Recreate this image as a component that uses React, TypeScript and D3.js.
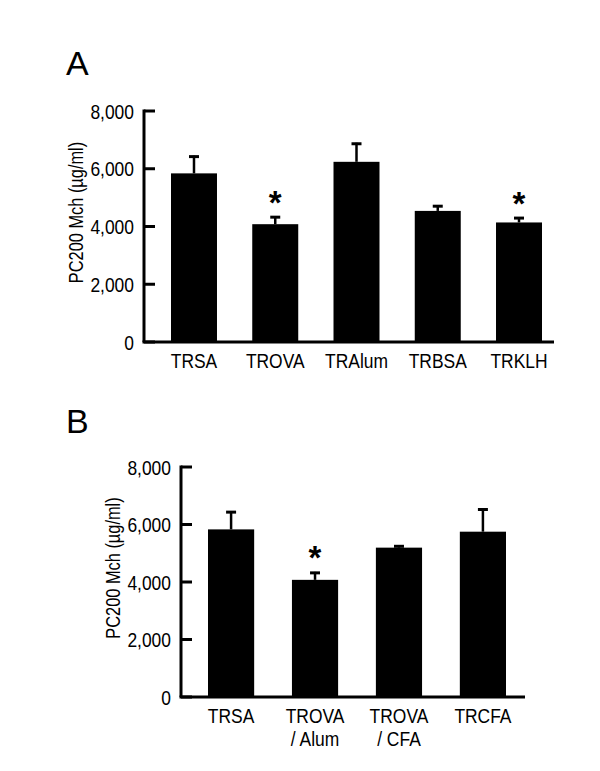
import React from "react";
import * as d3 from "d3";

// Panel A data
const aCategories = ["TRSA", "TROVA", "TRAlum", "TRBSA", "TRKLH"];
const aValues = [5840, 4080, 6240, 4540, 4140];
const aErrors = [615, 278, 660, 198, 186];
const aSignificant = [false, true, false, false, true];

// Panel B data
const bCategories = [["TRSA"], ["TROVA", "/ Alum"], ["TROVA", "/ CFA"], ["TRCFA"]];
const bValues = [5830, 4075, 5195, 5750];
const bErrors = [635, 277, 82, 807];
const bSignificant = [false, true, false, false];

const yTicks = [0, 2000, 4000, 6000, 8000];
const yMax = 8000;
const yTitle = "PC200 Mch (µg/ml)";

const SANS = "'Liberation Sans', Arial, sans-serif";

function NarrowText(props: {
  x: number;
  y: number;
  anchor: "start" | "middle" | "end";
  size: number;
  squeeze?: number;
  rotate?: number;
  dy?: string;
  children: React.ReactNode;
}) {
  const rot = props.rotate ? ` rotate(${props.rotate})` : "";
  const sq = props.squeeze ?? 0.83;
  return (
    <text
      transform={`translate(${props.x},${props.y})${rot} scale(${sq},1)`}
      textAnchor={props.anchor}
      dy={props.dy}
      fontFamily={SANS}
      fontSize={props.size}
      fill="#000"
    >
      {props.children}
    </text>
  );
}

type PanelProps = {
  letter: string;
  letterY: number;
  labels: string[][];
  values: number[];
  errors: number[];
  sig: boolean[];
  axisX: number;
  top: number;
  bottom: number;
  barStart: number;
  barEnd: number;
  padInner: number;
  lineEnd: number;
};

function Panel(p: PanelProps) {
  const y = d3.scaleLinear().domain([0, yMax]).range([p.bottom, p.top]);
  const keys = p.labels.map((l) => l.join(" "));
  const x = d3
    .scaleBand<string>()
    .domain(keys)
    .range([p.barStart, p.barEnd])
    .paddingInner(p.padInner)
    .paddingOuter(0);
  const bw = x.bandwidth();
  const fmt = d3.format(",");
  const capW = 10;
  return (
    <g>
      <text x={66} y={p.letterY} fontFamily={SANS} fontSize={34} fill="#000">
        {p.letter}
      </text>
      <NarrowText x={p.axisX - 61} y={(p.top + p.bottom) / 2 - 14} anchor="middle" size={21} squeeze={0.78} rotate={-90}>
        {yTitle}
      </NarrowText>
      {keys.map((k, i) => {
        const cx = (x(k) as number) + bw / 2;
        const errTop = y(p.values[i] + p.errors[i]);
        return (
          <g key={k}>
            <rect x={x(k)} y={y(p.values[i])} width={bw} height={p.bottom - y(p.values[i])} fill="#000" />
            <line x1={cx} x2={cx} y1={y(p.values[i])} y2={errTop} stroke="#000" strokeWidth={2.5} />
            <line x1={cx - capW / 2} x2={cx + capW / 2} y1={errTop + 1} y2={errTop + 1} stroke="#000" strokeWidth={3} />
            {p.sig[i] && (
              <text x={cx} y={errTop - 23} dy="0.62em" textAnchor="middle" fontFamily={SANS} fontWeight="bold" fontSize={33} fill="#000">
                *
              </text>
            )}
            {p.labels[i].map((line, j) => (
              <NarrowText key={j} x={cx} y={p.bottom + 26 + j * 23} anchor="middle" size={21}>
                {line}
              </NarrowText>
            ))}
          </g>
        );
      })}
      <line x1={p.axisX} x2={p.axisX} y1={p.top - 1.5} y2={p.bottom} stroke="#000" strokeWidth={3} />
      <line x1={p.axisX - 1.5} x2={p.lineEnd} y1={p.bottom} y2={p.bottom} stroke="#000" strokeWidth={3} />
      {yTicks.map((t) => (
        <g key={t}>
          <line x1={p.axisX} x2={p.axisX + 11} y1={y(t)} y2={y(t)} stroke="#000" strokeWidth={3} />
          <NarrowText x={p.axisX - 10} y={y(t)} dy="0.36em" anchor="end" size={21}>
            {fmt(t)}
          </NarrowText>
        </g>
      ))}
    </g>
  );
}

export default function App() {
  return (
    <svg
      width={600}
      height={771}
      viewBox="0 0 600 771"
      style={{ position: "absolute", left: 0, top: 0, background: "#fff" }}
    >
      <rect width={600} height={771} fill="#fff" />
      <Panel
        letter="A"
        letterY={75}
        labels={aCategories.map((c) => [c])}
        values={aValues}
        errors={aErrors}
        sig={aSignificant}
        axisX={144}
        top={111}
        bottom={342}
        barStart={171}
        barEnd={542}
        padInner={0.434}
        lineEnd={554}
      />
      <Panel
        letter="B"
        letterY={433}
        labels={bCategories}
        values={bValues}
        errors={bErrors}
        sig={bSignificant}
        axisX={181}
        top={467}
        bottom={697}
        barStart={208}
        barEnd={506}
        padInner={0.45}
        lineEnd={525}
      />
    </svg>
  );
}
